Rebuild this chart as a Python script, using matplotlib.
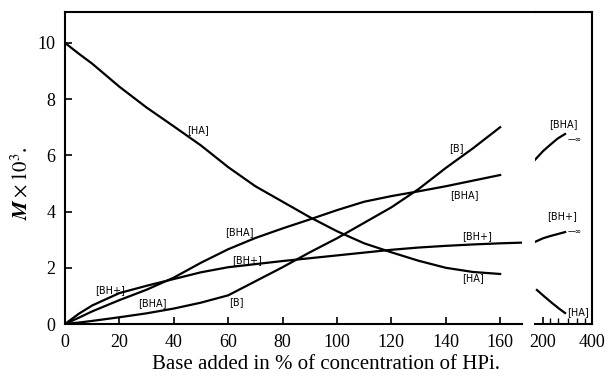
import matplotlib
matplotlib.use("Agg")
import matplotlib.pyplot as plt

plt.rcParams['font.family'] = ['Liberation Serif', 'DejaVu Serif']
plt.rcParams['mathtext.fontset'] = 'stix'

# main range: base added (% of HPi), concentrations M x 10^3
base = [0, 5, 10, 20, 30, 40, 50, 60, 70, 80, 90, 100, 110, 120, 130, 140, 150, 160]
ha = [10.0, 9.62, 9.26, 8.44, 7.7, 7.03, 6.35, 5.58, 4.9, 4.35, 3.8, 3.3, 2.87, 2.55, 2.25, 2.0, 1.85, 1.78]
bha = [0, 0.22, 0.45, 0.85, 1.22, 1.65, 2.18, 2.66, 3.06, 3.4, 3.72, 4.05, 4.35, 4.55, 4.72, 4.9, 5.1, 5.3]
b = [0, 0.05, 0.11, 0.24, 0.38, 0.55, 0.76, 1.02, 1.52, 2.02, 2.55, 3.05, 3.6, 4.15, 4.8, 5.55, 6.25, 7.0]
base_bh = base + [170]
bh = [0, 0.36, 0.66, 1.1, 1.36, 1.6, 1.84, 2.02, 2.13, 2.24, 2.34, 2.44, 2.54, 2.64, 2.72, 2.78, 2.83, 2.87, 2.9]

# far range (200-400 %)
far_x = [167, 200, 230, 260, 290]
far_bha = [5.84, 6.15, 6.38, 6.6, 6.76]
far_bh = [2.92, 3.05, 3.13, 3.2, 3.27]
far_ha_x = [175, 205, 235, 265, 290]
far_ha = [1.21, 0.98, 0.76, 0.55, 0.39]

main_ticks = [0, 20, 40, 60, 80, 100, 120, 140, 160]
far_ticks = [200, 400]

fig = plt.figure(figsize=(6.1, 3.81), dpi=100)
ax1 = fig.add_axes([0.1066, 0.1496, 0.749, 0.819])
ax2 = fig.add_axes([0.877, 0.1496, 0.0935, 0.819])

lw = 1.6
for ax in (ax1, ax2):
    ax.set_ylim(0, 11.1)
    for s in ax.spines.values():
        s.set_linewidth(1.5)
    ax.tick_params(direction='in', length=5, width=1.2, labelsize=13, pad=7)

ax1.plot(base, ha, color='black', lw=lw)
ax1.plot(base, bha, color='black', lw=lw)
ax1.plot(base, b, color='black', lw=lw)
ax1.plot(base_bh, bh, color='black', lw=lw)
ax1.set_xlim(0, 168)
ax1.set_xticks(main_ticks)
ax1.set_yticks([0, 2, 4, 6, 8, 10])
ax1.spines['right'].set_visible(False)
ax1.spines['top'].set_bounds(0, 173)

ax2.plot(far_x, far_bha, color='black', lw=lw)
ax2.plot(far_x, far_bh, color='black', lw=lw)
ax2.plot(far_ha_x, far_ha, color='black', lw=lw)
ax2.set_xlim(167, 400)
ax2.set_xticks(far_ticks)
ax2.set_xticks([230, 260, 300, 340, 370], minor=True)
ax2.tick_params(which='minor', direction='in', length=4, width=1.0)
ax2.set_yticks([])
ax2.spines['left'].set_visible(False)

lab = dict(fontsize=7, family='DejaVu Sans', ha='center', va='center')
ax1.text(49, 6.9, '[HA]', **lab)
ax1.text(64, 3.27, '[BHA]', **lab)
ax1.text(67, 2.28, '[BH+]', **lab)
ax1.text(16.5, 1.21, '[BH+]', **lab)
ax1.text(32, 0.75, '[BHA]', **lab)
ax1.text(63, 0.78, '[B]', **lab)
ax1.text(144, 6.26, '[B]', **lab)
ax1.text(147, 4.59, '[BHA]', **lab)
ax1.text(151.5, 3.13, '[BH+]', **lab)
ax1.text(150, 1.64, '[HA]', **lab)

inf = dict(fontsize=5.5, family='DejaVu Sans', ha='center', va='center')
ax2.text(281, 7.12, '[BHA]', **lab)
ax2.text(330, 6.55, '\u2014\u221e', **inf)
ax2.text(277, 3.85, '[BH+]', **lab)
ax2.text(330, 3.3, '\u2014\u221e', **inf)
ax2.text(342, 0.43, '[HA]', **lab)

fig.text(0.535, 0.043, 'Base added in % of concentration of HPi.', fontsize=15, ha='center', va='center')
fig.text(0.036, 0.52, r'$\mathbfit{M}\times10^3$.', fontsize=15, rotation=90, ha='center', va='center')

fig.savefig('out.png', dpi=100)
